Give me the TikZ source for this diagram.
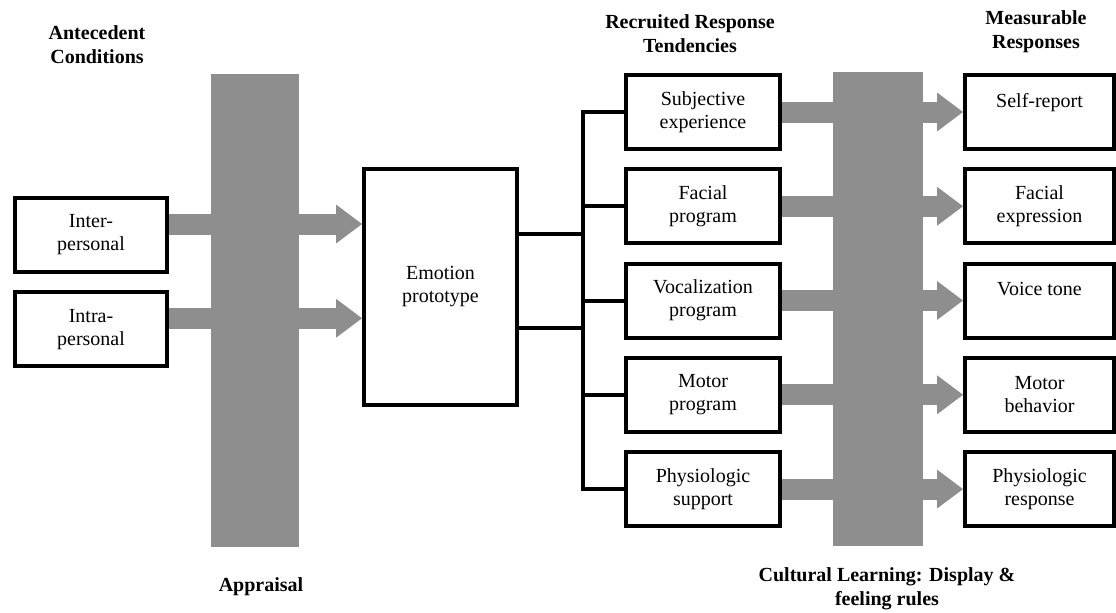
\documentclass[tikz,border=0pt]{standalone}
\usepackage{fontspec}
\setmainfont{Liberation Serif}
\usetikzlibrary{arrows.meta,positioning}
\definecolor{barg}{RGB}{142,142,142}

\begin{document}
\begin{tikzpicture}[
        x=0.75pt, y=-0.75pt,
        node distance=12.2pt,
        font=\fontsize{15}{17.25}\selectfont,
        box/.style={draw, line width=3pt, align=center, minimum width=114pt, minimum height=55.5pt, inner sep=2pt},
        bar/.style={fill=barg, inner sep=0pt},
        hdr/.style={font=\fontsize{15}{18}\selectfont\bfseries, align=center},
        link/.style={line width=3pt},
        fatarrow/.style={draw=barg, line width=15.75pt, -{Triangle[length=19.5pt, width=29.25pt, line width=0pt]}}
    ]
        \useasboundingbox (0,0) rectangle (1116,612);
        % grey bands
        \node[bar, minimum width=65.6pt, minimum height=354.75pt] (appr) at (255,310.5) {};
        \node[bar, minimum width=67.5pt, minimum height=355.5pt] (cult) at (878,309) {};
        % headings
        \node[hdr] (hant) at (97,45) {Antecedent\\Conditions};
        \node[hdr] (hrec) at (690,33.5) {Recruited Response\\Tendencies};
        \node[hdr] (hmea) at (1036,32) {Measurable\\Responses};
        \node[hdr] (lappr) at (261,587) {Appraisal};
        \node[hdr] (lcult) at (887,589) {Cultural Learning: Display \&\\feeling rules};
        % antecedents
        \node[box] (inter) at (91,235) {Inter-\\personal};
        \node[box, below=of inter] (intra) {Intra-\\personal};
        % prototype
        \node[box, minimum width=114.75pt, minimum height=177pt] (emo) at (440.5,287) {Emotion\\prototype};
        % response tendencies
        \node[box, minimum width=115.5pt] (sub) at (703,112) {Subjective\\experience};
        \node[box, minimum width=115.5pt, below=of sub] (fac) {Facial\\program};
        \node[box, minimum width=115.5pt, below=of fac] (voc) {Vocalization\\program};
        \node[box, minimum width=115.5pt, below=of voc] (mot) {Motor\\program};
        \node[box, minimum width=115.5pt, below=of mot] (phy) {Physiologic\\support};
        % measurable responses
        \node[box, minimum width=111.75pt] (self) at (1039.5,112) {Self-report\\\mbox{}};
        \node[box, minimum width=111.75pt, below=of self] (face) {Facial\\expression};
        \node[box, minimum width=111.75pt, below=of face] (voice) {Voice tone\\\mbox{}};
        \node[box, minimum width=111.75pt, below=of voice] (motb) {Motor\\behavior};
        \node[box, minimum width=111.75pt, below=of motb] (phyr) {Physiologic\\response};
        % appraisal arrows
        \path ([yshift=8.25pt]inter.east) coordinate (a1) ([yshift=8.25pt]intra.east) coordinate (a2);
        \draw[fatarrow] (a1) -- (emo.west |- a1);
        \draw[fatarrow] (a2) -- (emo.west |- a2);
        % bus
        \coordinate (bus) at (583,0);
        \path ([yshift=39.75pt]emo.east) coordinate (e1) ([yshift=-30.75pt]emo.east) coordinate (e2);
        \draw[link] (e1) -- (bus |- e1);
        \draw[link] (e2) -- (bus |- e2);
        \draw[link] (sub.west) -- (bus |- sub.west) -- (bus |- phy.west) -- (phy.west);
        \draw[link] (fac.west) -- (bus |- fac.west);
        \draw[link] (voc.west) -- (bus |- voc.west);
        \draw[link] (mot.west) -- (bus |- mot.west);
        % display rules arrows
        \draw[fatarrow] (sub.east) -- (self.west);
        \draw[fatarrow] (fac.east) -- (face.west);
        \draw[fatarrow] (voc.east) -- (voice.west);
        \draw[fatarrow] (mot.east) -- (motb.west);
        \draw[fatarrow] (phy.east) -- (phyr.west);
    \end{tikzpicture}
\end{document}
